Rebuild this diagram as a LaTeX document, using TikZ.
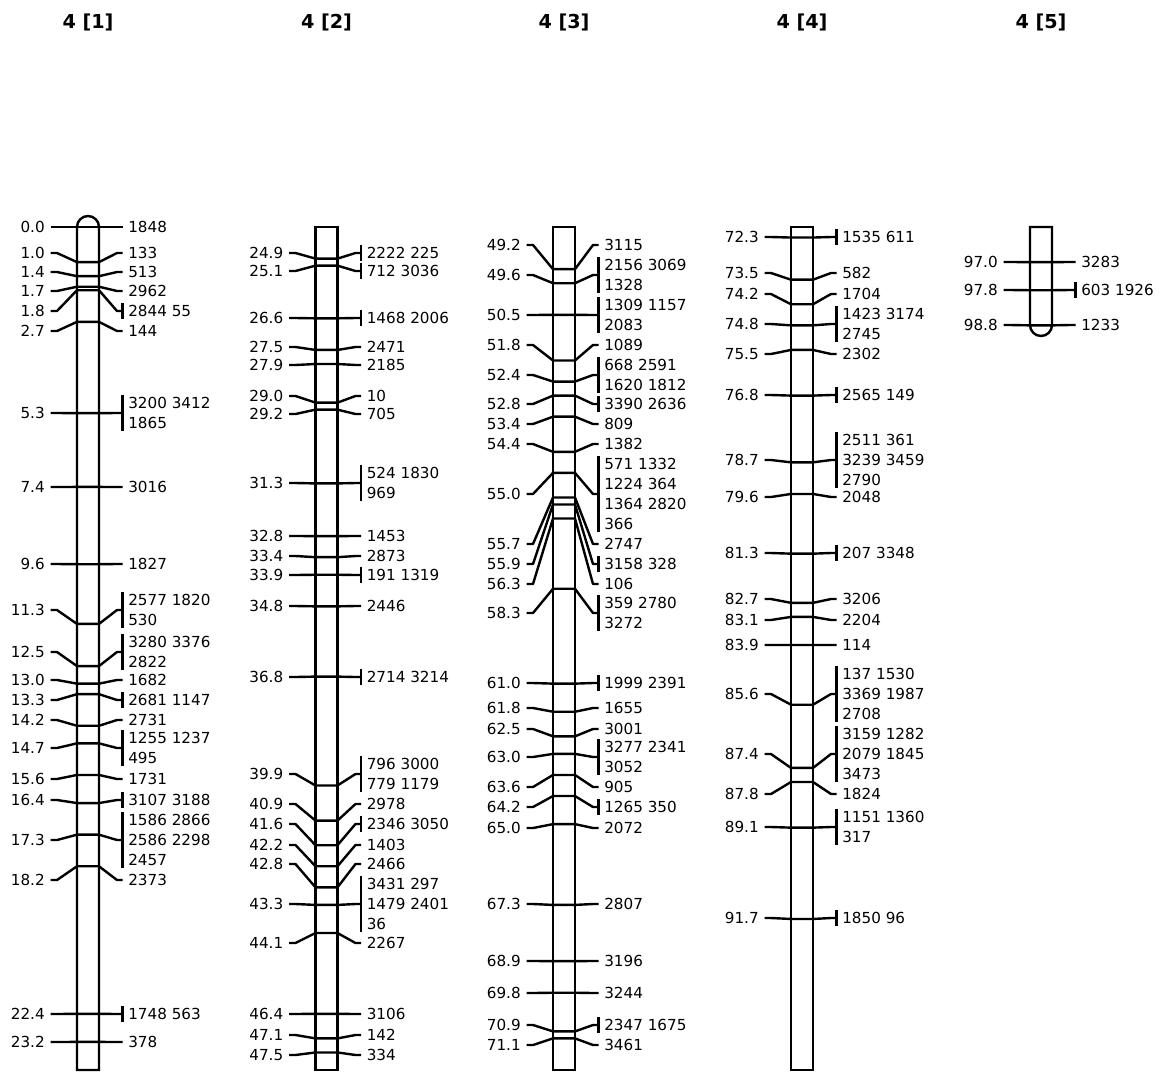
\documentclass[tikz,border=0pt]{standalone}
\usepackage{fontspec}
\usepackage{tikz}
\usetikzlibrary{positioning}
\newfontfamily\mapfont{DejaVu Sans}
\newcommand{\mapsize}{\fontsize{11.4pt}{15.2pt}\selectfont}
\newcommand{\titlesize}{\fontsize{14.4pt}{17pt}\selectfont}
% one locus line: name, bar centre, offset (cM), position, label y, loci, group bar
\newcommand{\lgmark}[7]{%
  \pgfmathsetmacro{\yc}{227+(#4-#3)*35.125}
  \node[poslab] (l#1) at (#2-43,#5) {#4};
  \node[mklab] (r#1) at (#2+40,#5) {#6};
  \draw[tick] ([xshift=4.125pt]l#1.east) -- ++(6.5,0) -- (#2-11,\yc) -- (#2+11,\yc)
    -- ([xshift=-8.25pt]r#1.west) -- ([xshift=-4.125pt]r#1.west);
  \ifnum#7=1
    \draw[tick] ([xshift=-4.125pt,yshift=1.5pt]r#1.north west) -- ([xshift=-4.125pt,yshift=-1.5pt]r#1.south west);
  \fi
}

\begin{document}
\begin{tikzpicture}[
    x=0.75pt, y=-0.75pt,
    chrom/.style={line width=1.8pt, fill=white},
    tick/.style={line width=1.8pt, line join=round},
    poslab/.style={font=\mapfont\mapsize, inner sep=0pt, anchor=east},
    mklab/.style={font=\mapfont\mapsize, inner sep=0pt, anchor=west, align=left},
    title/.style={font=\mapfont\bfseries\titlesize, inner sep=0pt}
]
\useasboundingbox (0,0) rectangle (1161,1072);

% titles
\node[title] (t1) at (88,22) {4 [1]};
\node[title] (t2) at (326.5,22) {4 [2]};
\node[title] (t3) at (564,22) {4 [3]};
\node[title] (t4) at (802,22) {4 [4]};
\node[title] (t5) at (1041,22) {4 [5]};

% chromosome bars
\draw[chrom] (77,1070) -- (77,227) arc[start angle=180, end angle=0, radius=8.25pt] -- (99,1070) -- cycle;
\draw[chrom] (315.5,227) rectangle (337.5,1070);
\draw[chrom] (553,227) rectangle (575,1070);
\draw[chrom] (791,227) rectangle (813,1070);
\draw[chrom] (1030,227) -- (1030,325) arc[start angle=180, end angle=360, radius=8.25pt] -- (1052,227) -- cycle;

% 4 [1]
\foreach \cm/\ly/\rt/\g [count=\i] in {
    0.0/227/1848/0, 1.0/253/133/0, 1.4/272/513/0, 1.7/291/2962/0,
    1.8/311/2844 55/1, 2.7/331/144/0, 5.3/413/{3200 3412\\1865}/1,
    7.4/487/3016/0, 9.6/564/1827/0, 11.3/610/{2577 1820\\530}/1,
    12.5/652/{3280 3376\\2822}/1, 13.0/680/1682/0, 13.3/700/2681 1147/1,
    14.2/720/2731/0, 14.7/748/{1255 1237\\495}/1, 15.6/779/1731/0,
    16.4/800/3107 3188/1, 17.3/840/{1586 2866\\2586 2298\\2457}/1,
    18.2/880/2373/0, 22.4/1014/1748 563/1, 23.2/1042/378/0}
  {\lgmark{a\i}{88}{0}{\cm}{\ly}{\rt}{\g}}

% 4 [2]
\foreach \cm/\ly/\rt/\g [count=\i] in {
    24.9/253/2222 225/1, 25.1/271/712 3036/1, 26.6/318/1468 2006/1,
    27.5/347/2471/0, 27.9/365/2185/0, 29.0/396/10/0, 29.2/414/705/0,
    31.3/483/{524 1830\\969}/1, 32.8/536/1453/0, 33.4/556/2873/0,
    33.9/575/191 1319/1, 34.8/606/2446/0, 36.8/677/2714 3214/1,
    39.9/774/{796 3000\\779 1179}/1, 40.9/804/2978/0, 41.6/824/2346 3050/1,
    42.2/845/1403/0, 42.8/864/2466/0, 43.3/904/{3431 297\\1479 2401\\36}/1,
    44.1/943/2267/0, 46.4/1014/3106/0, 47.1/1035/142/0, 47.5/1055/334/0}
  {\lgmark{b\i}{326.5}{24}{\cm}{\ly}{\rt}{\g}}

% 4 [3]
\foreach \cm/\ly/\rt/\g [count=\i] in {
    49.2/245/3115/0, 49.6/275/{2156 3069\\1328}/1, 50.5/315/{1309 1157\\2083}/1,
    51.8/345/1089/0, 52.4/375/{668 2591\\1620 1812}/1, 52.8/404/3390 2636/1,
    53.4/424/809/0, 54.4/444/1382/0,
    55.0/494/{571 1332\\1224 364\\1364 2820\\366}/1,
    55.7/544/2747/0, 55.9/564/3158 328/1, 56.3/584/106/0,
    58.3/613/{359 2780\\3272}/1, 61.0/683/1999 2391/1, 61.8/708/1655/0,
    62.5/729/3001/0, 63.0/757/{3277 2341\\3052}/1, 63.6/787/905/0,
    64.2/807/1265 350/1, 65.0/828/2072/0, 67.3/904/2807/0, 68.9/961/3196/0,
    69.8/993/3244/0, 70.9/1025/2347 1675/1, 71.1/1045/3461/0}
  {\lgmark{c\i}{564}{48}{\cm}{\ly}{\rt}{\g}}

% 4 [4]
\foreach \cm/\ly/\rt/\g [count=\i] in {
    72.3/237/1535 611/1, 73.5/273/582/0, 74.2/294/1704/0,
    74.8/324/{1423 3174\\2745}/1, 75.5/354/2302/0, 76.8/395/2565 149/1,
    78.7/460/{2511 361\\3239 3459\\2790}/1, 79.6/497/2048/0,
    81.3/553/207 3348/1, 82.7/599/3206/0, 83.1/620/2204/0, 83.9/645/114/0,
    85.6/694/{137 1530\\3369 1987\\2708}/1,
    87.4/754/{3159 1282\\2079 1845\\3473}/1, 87.8/794/1824/0,
    89.1/827/{1151 1360\\317}/1, 91.7/918/1850 96/1}
  {\lgmark{d\i}{802}{72}{\cm}{\ly}{\rt}{\g}}

% 4 [5]
\foreach \cm/\ly/\rt/\g [count=\i] in {
    97.0/262/3283/0, 97.8/290/603 1926/1, 98.8/325/1233/0}
  {\lgmark{e\i}{1041}{96}{\cm}{\ly}{\rt}{\g}}
\end{tikzpicture}
\end{document}
